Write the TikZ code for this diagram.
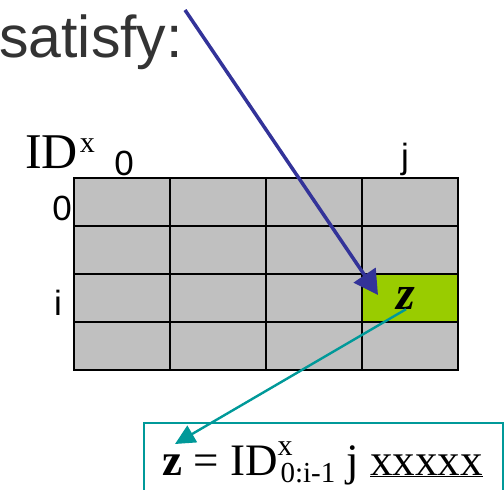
\documentclass[tikz,border=0pt]{standalone}
\usepackage{fontspec}
\setmainfont{Liberation Serif}
\setsansfont{Liberation Sans}
\usepackage{xcolor}
\usepackage{tikz}
\usetikzlibrary{arrows.meta}

\definecolor{cellgray}{HTML}{C0C0C0}
\definecolor{zgreen}{HTML}{99CC00}
\definecolor{ptrblue}{HTML}{333399}
\definecolor{ptrteal}{HTML}{009999}
\definecolor{textgray}{HTML}{333333}
\newcommand{\fsz}[1]{\fontsize{#1}{#1}\selectfont}

\begin{document}
\begin{tikzpicture}[x=1pt, y=-1pt,
  cell/.style={draw, line width=1.6pt, minimum width=96pt, minimum height=48pt,
               inner sep=0pt},
  lbl/.style={font=\sffamily\fsz{35}, inner sep=0pt, anchor=base},
  bluearr/.style={-{Triangle[length=24pt, width=26pt]}, line width=3.5pt, ptrblue},
  tealarr/.style={-{Triangle[length=20pt, width=19pt]}, line width=2.4pt, ptrteal},
  exprbox/.style={draw=ptrteal, line width=1.6pt, anchor=north west,
                  minimum width=359pt, minimum height=100pt, inner sep=0pt}]
\useasboundingbox (0,0) rectangle (504,490);

\node[font=\sffamily\fsz{59}, text=textgray, anchor=base east, inner sep=0pt]
  (satisfy) at (183,57) {satisfy:};

% table ID^x
\foreach \r in {0,...,3}
  \foreach \c in {0,...,3} {
    \ifnum\r\c=23 \def\cf{zgreen}\else\def\cf{cellgray}\fi
    \node[cell, fill=\cf] (c\r\c) at ({122+96*\c},{202+48*\r}) {};
  }
\node[anchor=base west, inner sep=0pt, font=\fsz{50}] (idx) at (25,168)
  {ID\kern2pt\raisebox{16pt}{\fsz{30}x}};
\node[lbl] (col0) at (124,175) {0};
\node[lbl] (colj) at (405,168) {j};
\node[lbl] (row0) at (62,220) {0};
\node[lbl] (rowi) at (58,315) {i};
\node[font=\bfseries\itshape\fsz{48}, inner sep=0pt] (zmark) at (406,298) {z};

% expression box
\node[exprbox] (zbox) at (143,422) {};
\node[anchor=base west, inner sep=0pt, font=\fsz{45}] (expr) at (162,475)
  {\textbf{z} = ID\rlap{\raisebox{20pt}{\fsz{30}x}}\raisebox{-7pt}{\fsz{29}\kern3pt 0:i-1} j \underline{xxxxx}};

% pointers
\coordinate (bluestart) at (185,10);
\coordinate (bluetip) at (378,295);
\coordinate (tealtip) at (175,444);
\draw[bluearr] (bluestart) -- (bluetip);
\draw[tealarr] (zmark.south) -- (tealtip);
\end{tikzpicture}
\end{document}
